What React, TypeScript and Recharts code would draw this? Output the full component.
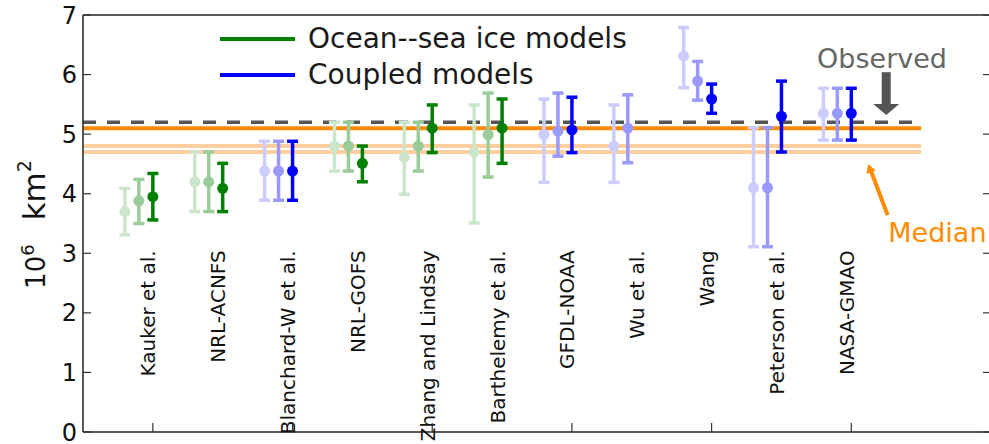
import {
  ErrorBar,
  Legend,
  ReferenceDot,
  ReferenceLine,
  Scatter,
  ScatterChart,
  XAxis,
  YAxis,
} from "recharts";

const models = [
  "Kauker et al.",
  "NRL-ACNFS",
  "Blanchard-W et al.",
  "NRL-GOFS",
  "Zhang and Lindsay",
  "Barthelemy et al.",
  "GFDL-NOAA",
  "Wu et al.",
  "Wang",
  "Peterson et al.",
  "NASA-GMAO",
];
const modelGroup = [
  "ocean", "ocean", "coupled", "ocean", "ocean", "ocean",
  "coupled", "coupled", "coupled", "coupled", "coupled",
];

// June / July / August outlooks (median with range), 10^6 km^2
const juneMid = [3.7, 4.2, 4.38, 4.8, 4.61, 4.7, 4.99, 4.8, 6.31, 4.1, 5.35];
const juneLow = [3.31, 3.7, 3.89, 4.38, 3.99, 3.51, 4.19, 4.19, 5.78, 3.11, 4.9];
const juneHigh = [4.09, 4.7, 4.88, 5.2, 5.2, 5.49, 5.59, 5.49, 6.79, 5.11, 5.77];

const julyMid = [3.88, 4.2, 4.38, 4.8, 4.8, 4.99, 5.05, 5.1, 5.89, 4.1, 5.35];
const julyLow = [3.5, 3.7, 3.89, 4.38, 4.38, 4.28, 4.63, 4.52, 5.57, 3.11, 4.9];
const julyHigh = [4.24, 4.7, 4.88, 5.2, 5.2, 5.69, 5.69, 5.66, 6.22, 5.11, 5.77];

const augMid = [3.95, 4.09, 4.38, 4.51, 5.1, 5.1, 5.07, null, 5.59, 5.3, 5.35];
const augLow = [3.56, 3.7, 3.89, 4.2, 4.69, 4.51, 4.69, null, 5.35, 4.7, 4.9];
const augHigh = [4.34, 4.51, 4.88, 4.8, 5.49, 5.59, 5.62, null, 5.84, 5.89, 5.77];

const observed = 5.2;
const median = 5.1;
const medianBand = [4.8, 4.7];

const yTicks = [0, 1, 2, 3, 4, 5, 6, 7];
const xTicks = [0, 2, 4, 6, 8, 10, 12];

const legendItems = [
  { label: "Ocean--sea ice models", color: "#008000" },
  { label: "Coupled models", color: "#0000ff" },
];

const groupColors: Record<string, string[]> = {
  ocean: ["#cce6cc", "#99cc99", "#008000"],
  coupled: ["#ccccff", "#9999ff", "#0000ff"],
};

const runs = [
  { key: "june", mid: juneMid, low: juneLow, high: juneHigh, shift: -0.4 },
  { key: "july", mid: julyMid, low: julyLow, high: julyHigh, shift: -0.2 },
  { key: "aug", mid: augMid, low: augLow, high: augHigh, shift: 0 },
];

const FONT = "DejaVu Sans";
const ORANGE = "#ff8c00";
const GREY = "#555555";

const series = runs.flatMap((run, r) =>
  ["ocean", "coupled"].map((g) => ({
    name: `${run.key}-${g}`,
    color: groupColors[g][r],
    data: models
      .map((_, i) => i)
      .filter((i) => modelGroup[i] === g && run.mid[i] != null)
      .map((i) => {
        const m = run.mid[i] as number;
        return {
          x: i + run.shift,
          y: m,
          err: [m - (run.low[i] as number), (run.high[i] as number) - m],
        };
      }),
  }))
);

const LeftTick = ({ x, y, payload }: any) => (
  <g>
    <line x1={x} x2={x + 8} y1={y} y2={y} stroke="#333" strokeWidth={1.2} />
    <text x={x - 6} y={y} dy="0.36em" textAnchor="end" fontSize={24} fill="#111" fontFamily={FONT}>
      {payload.value}
    </text>
  </g>
);
const RightTick = ({ x, y }: any) => (
  <line x1={x} x2={x - 8} y1={y} y2={y} stroke="#333" strokeWidth={1.2} />
);
const TopTick = ({ x, y }: any) => (
  <line x1={x} x2={x} y1={y} y2={y + 9} stroke="#333" strokeWidth={1.2} />
);
const BottomTick = ({ x, y }: any) => (
  <line x1={x} x2={x} y1={y} y2={y - 9} stroke="#333" strokeWidth={1.2} />
);

const YLabel = ({ viewBox }: any) => {
  const cx = viewBox.x + 45;
  const cy = viewBox.y + viewBox.height / 2 + 1;
  return (
    <text
      x={cx}
      y={cy}
      transform={`rotate(-90 ${cx} ${cy})`}
      textAnchor="middle"
      fill="#111"
      fontFamily={FONT}
    >
      <tspan fontSize={26}>10</tspan>
      <tspan fontSize={18} dy={-11}>6</tspan>
      <tspan fontSize={31} dy={11} dx={24}>km</tspan>
      <tspan fontSize={19} dy={-14}>2</tspan>
    </text>
  );
};

const renderLegend = () => (
  <div>
    {legendItems.map((it) => (
      <div key={it.label} style={{ display: "flex", alignItems: "center", height: 36 }}>
        <svg width={75} height={36}>
          <line x1={0} x2={75} y1={18} y2={18} stroke={it.color} strokeWidth={4} />
        </svg>
        <span
          style={{
            marginLeft: 13,
            fontSize: 28,
            fontFamily: FONT,
            color: "#1a1a1a",
            lineHeight: "36px",
            whiteSpace: "nowrap",
          }}
        >
          {it.label}
        </span>
      </div>
    ))}
  </div>
);

const textShape = (label: string, color: string, size: number) => (p: any) => (
  <text x={p.cx} y={p.cy} fill={color} fontSize={size} fontFamily={FONT}>
    {label}
  </text>
);

const observedHead = (p: any) => (
  <polygon
    points={`${p.cx},${p.cy} ${p.cx - 13},${p.cy - 11} ${p.cx + 13},${p.cy - 11}`}
    fill={GREY}
  />
);

const medianHead = (p: any) => {
  const dx = -19, dy = -51;
  const len = Math.hypot(dx, dy);
  const ux = dx / len, uy = dy / len;
  const bx = p.cx - ux * 9, by = p.cy - uy * 9;
  const px = -uy, py = ux;
  return (
    <polygon
      points={`${p.cx},${p.cy} ${bx + px * 5},${by + py * 5} ${bx - px * 5},${by - py * 5}`}
      fill={ORANGE}
    />
  );
};

export default function App() {
  return (
    <div style={{ position: "absolute", left: 0, top: 0, width: 989, height: 444, overflow: "hidden", background: "#fff" }}>
      <ScatterChart
        width={995}
        height={444}
        margin={{ top: 0, right: 0, bottom: 0, left: 0 }}
        style={{ fontFamily: FONT }}
      >
        <XAxis
          xAxisId={0}
          dataKey="x"
          type="number"
          domain={[-1, 12]}
          ticks={xTicks}
          interval={0}
          allowDataOverflow
          orientation="bottom"
          height={12}
          tickSize={0}
          tickMargin={0}
          tick={BottomTick}
          axisLine={{ stroke: "#222", strokeWidth: 1.5 }}
        />
        <XAxis
          xAxisId="top"
          type="number"
          domain={[-1, 12]}
          ticks={xTicks}
          interval={0}
          allowDataOverflow
          orientation="top"
          height={15}
          tickSize={0}
          tickMargin={0}
          tick={TopTick}
          axisLine={{ stroke: "#222", strokeWidth: 1.5 }}
        />
        <YAxis
          yAxisId={0}
          dataKey="y"
          type="number"
          domain={[0, 7]}
          ticks={yTicks}
          interval={0}
          allowDataOverflow
          width={83}
          tickSize={0}
          tickMargin={0}
          tick={LeftTick}
          axisLine={{ stroke: "#222", strokeWidth: 1.5 }}
          label={<YLabelWrap />}
        />
        <YAxis
          yAxisId="right"
          type="number"
          orientation="right"
          domain={[0, 7]}
          ticks={yTicks}
          interval={0}
          allowDataOverflow
          width={4}
          tickSize={0}
          tickMargin={0}
          tick={RightTick}
          axisLine={{ stroke: "#222", strokeWidth: 1.5 }}
        />

        {medianBand.map((v) => (
          <ReferenceLine
            key={v}
            segment={[{ x: -1, y: v }, { x: 11, y: v }]}
            stroke="#ffcf9f"
            strokeWidth={4}
          />
        ))}
        <ReferenceLine
          segment={[{ x: -1, y: median }, { x: 11, y: median }]}
          stroke={ORANGE}
          strokeWidth={4}
        />
        <ReferenceLine
          segment={[{ x: -1, y: observed }, { x: 11, y: observed }]}
          stroke={GREY}
          strokeWidth={3.5}
          strokeDasharray="13 11"
        />

        {series.map((s) => (
          <Scatter
            key={s.name}
            name={s.name}
            data={s.data}
            isAnimationActive={false}
            shape={(p: any) => <circle cx={p.cx} cy={p.cy} r={5.5} fill={s.color} />}
          >
            <ErrorBar dataKey="err" direction="y" width={5.5} stroke={s.color} strokeWidth={3.5} />
          </Scatter>
        ))}

        {models.map((m, i) => (
          <ReferenceDot
            key={m}
            x={i}
            y={3.05}
            r={0}
            shape={(p: any) => (
              <text
                x={p.cx}
                y={p.cy}
                dy={2.5}
                transform={`rotate(-90 ${p.cx} ${p.cy})`}
                textAnchor="end"
                fontSize={20}
                fill="#111"
                fontFamily={FONT}
              >
                {m}
              </text>
            )}
          />
        ))}

        <ReferenceDot x={9.51} y={6.11} r={0} shape={textShape("Observed", "#666666", 27)} />
        <ReferenceLine segment={[{ x: 10.5, y: 6.04 }, { x: 10.5, y: 5.45 }]} stroke={GREY} strokeWidth={9} />
        <ReferenceDot x={10.5} y={5.32} r={0} shape={observedHead} />

        <ReferenceDot x={10.53} y={3.19} r={0} shape={textShape("Median", ORANGE, 27)} />
        <ReferenceLine segment={[{ x: 10.52, y: 3.64 }, { x: 10.27, y: 4.42 }]} stroke={ORANGE} strokeWidth={4} />
        <ReferenceDot x={10.24} y={4.5} r={0} shape={medianHead} />

        <Legend
          layout="horizontal"
          verticalAlign="middle"
          align="center"
          wrapperStyle={{ left: 220, top: 21, width: 450, height: 72 }}
          content={renderLegend}
        />
      </ScatterChart>
    </div>
  );
}

function YLabelWrap(props: any) {
  return <YLabel {...props} />;
}
